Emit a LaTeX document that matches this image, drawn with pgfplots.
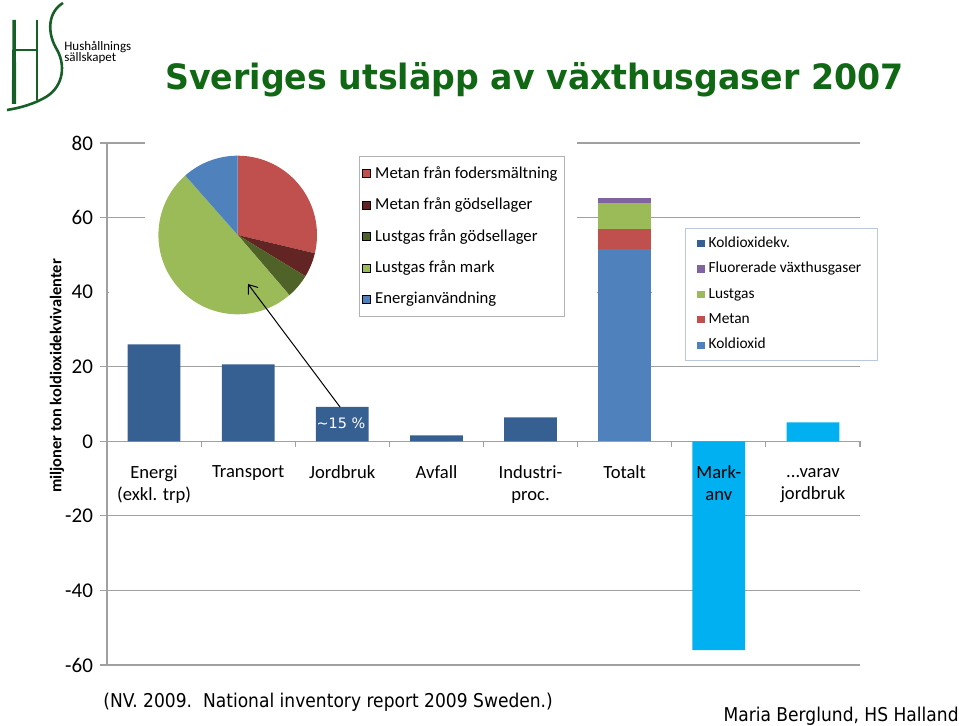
\documentclass[border=0pt]{standalone}
\usepackage{pgfplots}
\usepackage{pgfplotstable}
\usepackage{fontspec}
\usepackage{graphicx}
\usetikzlibrary{arrows.meta}
\pgfplotsset{compat=1.18}
\setmainfont{Carlito}
\newfontfamily\verd{DejaVu Sans}

\definecolor{kdek}{RGB}{55,96,146}
\definecolor{kd}{RGB}{79,129,189}
\definecolor{metan}{RGB}{192,80,77}
\definecolor{lustgas}{RGB}{155,187,89}
\definecolor{fluor}{RGB}{128,100,162}
\definecolor{markanv}{RGB}{0,176,240}
\definecolor{pieB}{RGB}{99,37,35}
\definecolor{pieC}{RGB}{79,98,40}
\definecolor{hsgreen}{RGB}{22,96,40}
\definecolor{titlegreen}{RGB}{16,104,20}
\definecolor{gridgray}{RGB}{160,160,160}
\definecolor{legborder}{RGB}{185,200,220}

% miljoner ton CO2-ekv, 2007
\pgfplotstableread{
x kd   metan lustgas fluor kdek mark
0 0    0     0       0     26.0 0
1 0    0     0       0     20.6 0
2 0    0     0       0     9.2  0
3 0    0     0       0     1.6  0
4 0    0     0       0     6.4  0
5 51.6 5.2   7.2     1.2   0    0
6 0    0     0       0     0    -56.0
7 0    0     0       0     0    5.1
}\utslapp

\begin{document}
\begin{tikzpicture}
\useasboundingbox (0,0) rectangle (479.5pt,363pt);

\begin{axis}[
  at={(53.5pt,30.5pt)}, anchor=south west,
  scale only axis, width=376.5pt, height=261pt,
  xmin=-0.5, xmax=7.5, ymin=-60, ymax=80,
  clip=false,
  axis x line=middle, axis y line=left,
  hide obscured x ticks=false, hide obscured y ticks=false,
  axis line style={draw=gridgray, line width=0.6pt, -},
  ymajorgrids, grid style={gridgray, line width=0.6pt},
  ytick={-60,-40,...,80},
  xtick={0,...,7},
  xticklabels={{Energi\\(exkl. trp)},Transport,Jordbruk,Avfall,{Industri-\\proc.},Totalt,{},{}},
  tick align=outside,
  major x tick style={draw=none},
  y tick style={gridgray, line width=0.6pt},
  major tick length=3.5pt,
  /pgf/number format/assume math mode=true,
  yticklabel style={font=\fontsize{10.5}{12}\selectfont},
  xticklabel style={align=center, font=\fontsize{9.3}{11.2}\selectfont, yshift=-5pt},
  ylabel={miljoner ton koldioxidekvivalenter},
  ylabel style={at={(axis description cs:-0.0664,0.5536)}, anchor=center, font=\bfseries\fontsize{8.2}{10}\selectfont},
  ybar stacked, bar width=0.56,
  reverse legend,
  legend image code/.code={\fill[#1] (0pt,-1.8pt) rectangle (3.6pt,1.8pt);},
  legend style={at={(0.7676,0.8372)}, anchor=north west, draw=legborder,
    font=\fontsize{7.7}{9}\selectfont, row sep=2.1pt, inner xsep=6pt, inner ysep=2pt,
    cells={anchor=west}},
]
% white chart areas of the inset pie and legend hide parts of the grid
\fill[white] (axis cs:-0.59,35) rectangle (axis cs:-0.507,45);
\fill[white] (axis cs:-0.48,35) rectangle (axis cs:4.71,45);
\fill[white] (axis cs:5.29,35) rectangle (axis cs:7.5,45);
\fill[white] (axis cs:-0.096,52) rectangle (axis cs:4.49,82);
% tick marks between the categories
\pgfplotsinvokeforeach{0.5,1.5,...,7.5}{
  \draw[gridgray, line width=0.6pt] (axis cs:#1,0) -- ++(0pt,-3pt);
}

\addplot[fill=kd, draw=none] table[x=x,y=kd]{\utslapp};
\addlegendentry{Koldioxid}
\addplot[fill=metan, draw=none] table[x=x,y=metan]{\utslapp};
\addlegendentry{Metan}
\addplot[fill=lustgas, draw=none] table[x=x,y=lustgas]{\utslapp};
\addlegendentry{Lustgas}
\addplot[fill=fluor, draw=none] table[x=x,y=fluor]{\utslapp};
\addlegendentry{Fluorerade växthusgaser}
\addplot[fill=kdek, draw=none] table[x=x,y=kdek]{\utslapp};
\addlegendentry{Koldioxidekv.}
\addplot[fill=markanv, draw=none, forget plot] table[x=x,y=mark]{\utslapp};
\coordinate (markanv) at (axis cs:6,0);
\coordinate (varav) at (axis cs:7,0);
\end{axis}

% inset pie: jordbrukets utslapp (procent)
\begin{axis}[
  at={(118.85pt,245.5pt)}, anchor=center,
  scale only axis, width=79.3pt, height=79.3pt,
  xmin=-1, xmax=1, ymin=-1, ymax=1, hide axis, clip=false,
  legend image code/.code={\fill[#1] (1pt,-2pt) rectangle (5pt,2pt);},
  legend style={at={(1.265,0.998)}, anchor=north west, draw=black!30,
    font=\fontsize{8.35}{10}\selectfont, row sep=4.3pt, inner xsep=1.5pt, inner ysep=3pt,
    cells={anchor=west}},
]
\pgfplotsextra{
  \gdef\pieang{90}
  \foreach \v/\col in {28.7/metan,5.0/pieB,5.0/pieC,49.8/lustgas,11.5/kd}{
    \pgfmathsetmacro\pieend{\pieang-3.6*\v}
    \fill[\col] (axis cs:0,0) -- ++(\pieang:39.65pt) arc[start angle=\pieang, end angle=\pieend, radius=39.65pt] -- cycle;
    \xdef\pieang{\pieend}
  }
}
\addlegendimage{fill=metan}\addlegendentry{Metan från fodersmältning}
\addlegendimage{fill=pieB}\addlegendentry{Metan från gödsellager}
\addlegendimage{fill=pieC}\addlegendentry{Lustgas från gödsellager}
\addlegendimage{fill=lustgas}\addlegendentry{Lustgas från mark}
\addlegendimage{fill=kd}\addlegendentry{Energianvändning}
\end{axis}

% tick labels of the last two categories, set over the bars
\node[anchor=north, align=center, font=\fontsize{9.3}{11.2}\selectfont, yshift=-8.5pt] at (markanv) {Mark-\\anv};
\node[anchor=north, font=\fontsize{9.3}{11.2}\selectfont, yshift=-6.5pt] at (varav)
  {\begin{tabular}{@{}c@{}}...varav\\jordbruk\end{tabular}};

\begin{scope}[x=0.5pt, y=-0.5pt, yshift=363pt]
  % logo
  \fill[hsgreen] (12.5,20) -- (15.8,20) -- (16.2,104) -- (11.8,104) -- cycle;
  \draw[hsgreen, line width=0.8pt] (14,50) -- (37,50);
  \draw[hsgreen, line width=0.8pt] (36.7,20) -- (36.7,100);
  \draw[hsgreen, line width=1.3pt] (63,3) .. controls (48,12) and (47,32) .. (56,48)
     .. controls (66,64) and (64,86) .. (46,97) .. controls (34,104) and (20,108) .. (7,110);
  \node[anchor=base west, inner sep=0, font=\fontsize{6.5}{7}\selectfont] at (64,51) {Hushållnings};
  \node[anchor=base west, inner sep=0, font=\fontsize{6.5}{7}\selectfont] at (64,62) {sällskapet};
  % title
  \node[anchor=base west, inner sep=0] at (165,89.3)
    {\color{titlegreen}\resizebox{369pt}{13.5pt}{\verd\bfseries Sveriges utsläpp av växthusgaser 2007}};
  % annotation
  \draw[-{Straight Barb[length=4pt,width=6pt]}, line width=0.5pt] (340,407) -- (248,284);
  \node[text=white, inner sep=0, font=\verd\fontsize{7.2}{8}\selectfont] at (341,423) {\textasciitilde 15 \%};
  % source
  \node[anchor=base west, inner sep=0, font=\verd\fontsize{9.5}{11}\selectfont] at (103,708)
    {\scalebox{0.9}[1]{(NV. 2009.\ \ National inventory report 2009 Sweden.)}};
  \node[anchor=base east, inner sep=0, font=\verd\fontsize{9.5}{11}\selectfont] at (959,722)
    {\scalebox{0.9}[1]{Maria Berglund, HS Halland}};
\end{scope}
\end{tikzpicture}
\end{document}
